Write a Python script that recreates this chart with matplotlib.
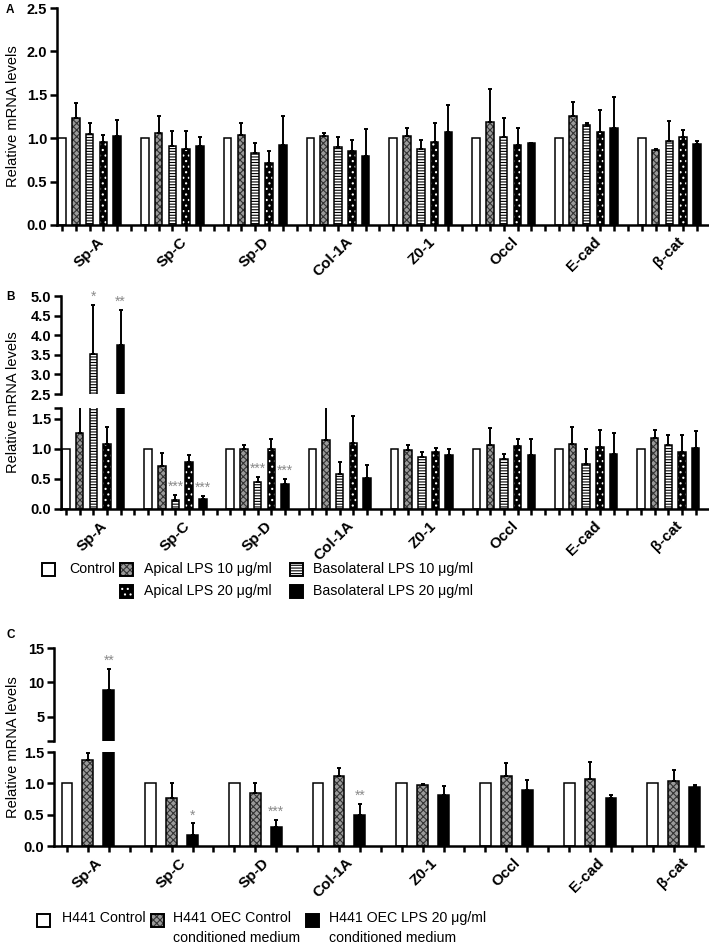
import matplotlib
matplotlib.use('Agg')
import matplotlib.pyplot as plt
from matplotlib.patches import Rectangle
from matplotlib.transforms import ScaledTranslation
import numpy as np

plt.rcParams['font.family'] = ['Liberation Sans', 'DejaVu Sans']
plt.rcParams['hatch.linewidth'] = 0.8

genes = ['Sp-A', 'Sp-C', 'Sp-D', 'Col-1A', 'Z0-1', 'Occl', 'E-cad', 'β-cat']

# panel A: means and upper SEM
a_ctrl = [1.0, 1.0, 1.0, 1.0, 1.0, 1.0, 1.0, 1.0]
a_api10 = [1.23, 1.06, 1.04, 1.02, 1.02, 1.19, 1.25, 0.86]
a_api10_err = [0.17, 0.20, 0.14, 0.04, 0.10, 0.38, 0.17, 0.01]
a_bas10 = [1.05, 0.91, 0.83, 0.90, 0.88, 1.01, 1.15, 0.97]
a_bas10_err = [0.12, 0.17, 0.11, 0.11, 0.10, 0.22, 0.03, 0.23]
a_api20 = [0.96, 0.87, 0.72, 0.85, 0.96, 0.92, 1.07, 1.01]
a_api20_err = [0.08, 0.21, 0.13, 0.13, 0.21, 0.20, 0.26, 0.09]
a_bas20 = [1.02, 0.91, 0.92, 0.79, 1.07, 0.94, 1.12, 0.93]
a_bas20_err = [0.19, 0.10, 0.34, 0.32, 0.31, 0.01, 0.35, 0.04]

# panel B
b_ctrl = [1.0, 1.0, 1.0, 1.0, 1.0, 1.0, 1.0, 1.0]
b_api10 = [1.26, 0.72, 1.00, 1.14, 0.98, 1.07, 1.08, 1.18]
b_api10_err = [0.55, 0.21, 0.06, 0.60, 0.08, 0.27, 0.28, 0.14]
b_bas10 = [3.52, 0.15, 0.45, 0.58, 0.87, 0.84, 0.75, 1.06]
b_bas10_err = [1.26, 0.08, 0.08, 0.21, 0.07, 0.08, 0.24, 0.17]
b_api20 = [1.08, 0.78, 0.99, 1.10, 0.95, 1.05, 1.03, 0.95]
b_api20_err = [0.28, 0.11, 0.17, 0.44, 0.06, 0.12, 0.28, 0.28]
b_bas20 = [3.74, 0.16, 0.41, 0.52, 0.89, 0.89, 0.91, 1.01]
b_bas20_err = [0.90, 0.06, 0.09, 0.22, 0.10, 0.28, 0.36, 0.29]
# (group, series, label)
b_stars = [(0, 2, '*'), (0, 4, '**'), (1, 2, '***'), (1, 4, '***'), (2, 2, '***'), (2, 4, '***')]

# panel C
c_ctrl = [1.0, 1.0, 1.0, 1.0, 1.0, 1.0, 1.0, 1.0]
c_cm = [1.38, 0.77, 0.84, 1.11, 0.98, 1.12, 1.07, 1.03]
c_cm_err = [0.10, 0.23, 0.16, 0.13, 0.01, 0.21, 0.27, 0.18]
c_lps = [8.9, 0.17, 0.31, 0.49, 0.81, 0.90, 0.76, 0.94]
c_lps_err = [3.1, 0.19, 0.11, 0.18, 0.15, 0.16, 0.06, 0.04]
c_stars = [(0, 2, '**'), (1, 2, '*'), (2, 2, '***'), (3, 2, '**')]

b_labels = ['Control', 'Apical LPS 10 μg/ml', 'Basolateral LPS 10 μg/ml',
            'Apical LPS 20 μg/ml', 'Basolateral LPS 20 μg/ml']
c_labels = ['H441 Control', 'H441 OEC Control\nconditioned medium',
            'H441 OEC LPS 20 μg/ml\nconditioned medium']

# fill colour, hatch, hatch colour
styles = [
    dict(fc='white', hatch=None, hc='white'),
    dict(fc='#9a9a9a', hatch='xxxxx', hc='#333333'),
    dict(fc='white', hatch='------', hc='black'),
    dict(fc='black', hatch='...', hc='white'),
    dict(fc='black', hatch=None, hc='black'),
]
c_styles = [styles[0], styles[1], styles[4]]

W, H = 709, 951
fig = plt.figure(figsize=(W / 100, H / 100), dpi=100)
leg_font = dict(fontsize=10.2)


def px_axes(left, top, right, bottom):
    return fig.add_axes([left / W, 1 - bottom / H, (right - left) / W, (bottom - top) / H])


def draw(ax, series, sty, slot, width, ymin=0.0):
    for i, (vals, errs) in enumerate(series):
        x = np.arange(len(genes)) * slot + i
        st = sty[i]
        ax.bar(x, vals, width, facecolor=st['fc'], edgecolor=st['hc'], hatch=st['hatch'],
               linewidth=0, zorder=2)
        ax.bar(x, vals, width, fill=False, edgecolor='black', linewidth=1.1, zorder=2.5)
        if errs is not None:
            v = np.array(vals)
            e = np.array(errs)
            keep = v + e > ymin
            if keep.any():
                ax.errorbar(x[keep], v[keep], yerr=[np.zeros(keep.sum()), e[keep]], fmt='none',
                            ecolor='black', elinewidth=1.4, capsize=1.6, capthick=1.4, zorder=3)


def style_axis(ax, xlim, nslots, slot, center, bottom=True):
    ax.set_xlim(*xlim)
    for s in ['top', 'right']:
        ax.spines[s].set_visible(False)
    for s in ['left', 'bottom']:
        ax.spines[s].set_linewidth(1.8)
    ax.tick_params(axis='y', length=5, width=1.8, direction='out', pad=2)
    if bottom:
        ax.set_xticks(np.arange(len(genes)) * slot + center)
        ax.set_xticks(np.arange(nslots), minor=True)
        ax.set_xticklabels(genes, rotation=45, ha='right', rotation_mode='anchor',
                           fontsize=11, fontweight='bold')
        ax.tick_params(axis='x', which='both', length=4, width=1.8, direction='out', pad=3)
        off = ScaledTranslation(7 / 100, 0, fig.dpi_scale_trans)
        for lab in ax.get_xticklabels():
            lab.set_transform(lab.get_transform() + off)
    else:
        ax.spines['bottom'].set_visible(False)
        ax.set_xticks([])


def set_yt(ax, ticks, labels):
    ax.set_yticks(ticks)
    ax.set_yticklabels(labels, fontsize=10.5, fontweight='bold')


def stars(ax_low, ax_top, series, stars_list, slot):
    for g, s, lab in stars_list:
        vals, errs = series[s]
        top = vals[g] + errs[g]
        x = g * slot + s
        lo, hi = ax_low.get_ylim()
        ax = ax_low
        if top >= hi:
            ax = ax_top
            lo, hi = ax_top.get_ylim()
        ax.text(x, top + 0.01 * (hi - lo), lab, ha='center', va='bottom',
                fontsize=10, color='#8a8a8a')


# ---- panel A
axA = px_axes(57, 8, 708, 225)
serA = [(a_ctrl, None), (a_api10, a_api10_err), (a_bas10, a_bas10_err),
        (a_api20, a_api20_err), (a_bas20, a_bas20_err)]
draw(axA, serA, styles, 6, 0.55)
axA.set_ylim(0, 2.5)
set_yt(axA, [0, 0.5, 1.0, 1.5, 2.0, 2.5], ['0.0', '0.5', '1.0', '1.5', '2.0', '2.5'])
style_axis(axA, (-0.36, 46.8), 47, 6, 2)

# ---- panel B (broken axis)
serB = [(b_ctrl, None), (b_api10, b_api10_err), (b_bas10, b_bas10_err),
        (b_api20, b_api20_err), (b_bas20, b_bas20_err)]
axBt = px_axes(61, 296, 708, 394)
axBl = px_axes(61, 408, 708, 509)
draw(axBt, serB, styles, 6, 0.55, ymin=2.5)
draw(axBl, serB, styles, 6, 0.55)
axBt.set_ylim(2.5, 5.0)
axBl.set_ylim(0, 1.68)
set_yt(axBt, [2.5, 3.0, 3.5, 4.0, 4.5, 5.0], ['2.5', '3.0', '3.5', '4.0', '4.5', '5.0'])
set_yt(axBl, [0, 0.5, 1.0, 1.5, 1.68], ['0.0', '0.5', '1.0', '1.5', ''])
style_axis(axBt, (-0.36, 46.9), 47, 6, 2, bottom=False)
style_axis(axBl, (-0.36, 46.9), 47, 6, 2)
stars(axBl, axBt, serB, b_stars, 6)

# ---- panel C (broken axis)
serC = [(c_ctrl, None), (c_cm, c_cm_err), (c_lps, c_lps_err)]
axCt = px_axes(54, 648, 703, 741)
axCl = px_axes(54, 752, 703, 846)
draw(axCt, serC, c_styles, 4, 0.52, ymin=1.5)
draw(axCl, serC, c_styles, 4, 0.52)
axCt.set_ylim(1.5, 15)
axCl.set_ylim(0, 1.5)
set_yt(axCt, [1.5, 5, 10, 15], ['', '5', '10', '15'])
set_yt(axCl, [0, 0.5, 1.0, 1.5], ['0.0', '0.5', '1.0', '1.5'])
style_axis(axCt, (-0.62, 30.4), 31, 4, 1, bottom=False)
style_axis(axCl, (-0.62, 30.4), 31, 4, 1)
stars(axCl, axCt, serC, c_stars, 4)

# y labels and panel letters
for yc in (116, 402, 747):
    fig.text(13 / W, 1 - yc / H, 'Relative mRNA levels', rotation=90, ha='center',
             va='center', fontsize=10.5)
for lab, yc in (('A', 10), ('B', 297), ('C', 635)):
    fig.text(6 / W, 1 - yc / H, lab, ha='left', va='center', fontsize=8.5, fontweight='bold')


# legends
def leg_box(x, yc, st):
    r1 = Rectangle((x / W, 1 - (yc + 6.5) / H), 13 / W, 13 / H, transform=fig.transFigure,
                   facecolor=st['fc'], edgecolor=st['hc'], hatch=st['hatch'], linewidth=0)
    r2 = Rectangle((x / W, 1 - (yc + 6.5) / H), 13 / W, 13 / H, transform=fig.transFigure,
                   fill=False, edgecolor='black', linewidth=1.4)
    fig.add_artist(r1)
    fig.add_artist(r2)


b_pos = [(42, 69, 569), (120, 144, 569), (290, 313, 569), (120, 144, 591), (290, 313, 591)]
for (bx, tx, yc), st, lab in zip(b_pos, styles, b_labels):
    leg_box(bx, yc, st)
    fig.text(tx / W, 1 - yc / H, lab, ha='left', va='center', **leg_font)

c_pos = [(37, 62, 920), (151, 173, 920), (306, 329, 920)]
for (bx, tx, yc), st, lab in zip(c_pos, c_styles, c_labels):
    leg_box(bx, yc, st)
    fig.text(tx / W, 1 - (yc - 9) / H, lab, ha='left', va='top', linespacing=1.5, **leg_font)

fig.savefig('out.png', dpi=100)
